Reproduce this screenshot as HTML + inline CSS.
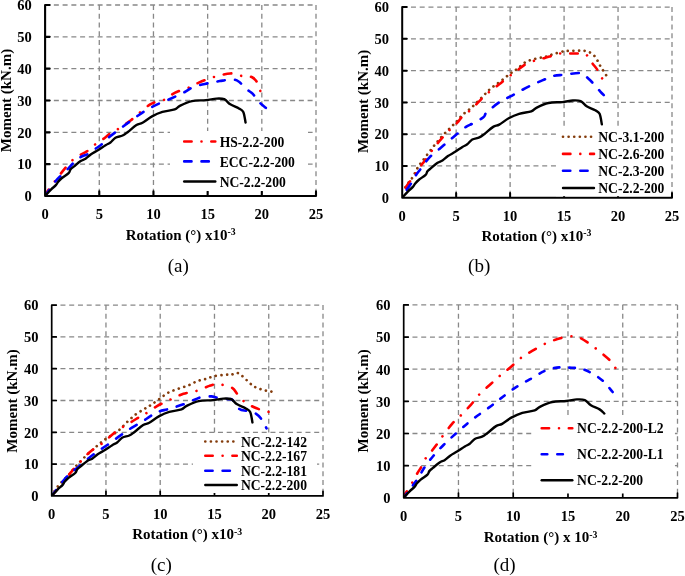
<!DOCTYPE html>
<html><head><meta charset="utf-8"><style>
html,body{margin:0;padding:0;background:#fff;}
svg{display:block;font-family:"Liberation Serif", serif;will-change:transform;}
</style></head><body>
<svg width="685" height="576" viewBox="0 0 685 576">
<rect width="685" height="576" fill="#fff"/>
<clipPath id="clipa"><rect x="45.10" y="2.00" width="273.90" height="194.00"/></clipPath>
<path d="M45.10,164.17H316.00M45.10,132.33H316.00M45.10,100.50H316.00M45.10,68.67H316.00M45.10,36.83H316.00M45.10,5.00H316.00" stroke="#888888" stroke-width="1.3" stroke-dasharray="5 3.75" fill="none"/>
<path d="M99.28,5.00V196.00M153.46,5.00V196.00M207.64,5.00V196.00M261.82,5.00V196.00M316.00,5.00V196.00" stroke="#888888" stroke-width="1.3" stroke-dasharray="5 3.75" fill="none"/>
<g clip-path="url(#clipa)">
<path d="M45.10,196.00C45.64,194.99 45.75,193.67 48.35,189.95C50.95,186.24 57.74,177.54 60.70,173.72C63.67,169.90 64.21,169.26 66.12,167.03C68.04,164.80 69.86,162.36 72.19,160.35C74.52,158.33 77.66,156.42 80.10,154.94C82.54,153.45 84.38,153.13 86.82,151.43C89.26,149.74 92.00,146.82 94.73,144.75C97.46,142.68 100.62,140.88 103.18,139.02C105.75,137.16 107.75,135.20 110.12,133.61C112.48,132.02 113.85,131.75 117.38,129.47C120.90,127.19 125.77,124.11 131.25,119.92C136.72,115.73 144.72,107.66 150.21,104.32C155.70,100.98 160.11,101.77 164.19,99.86C168.27,97.95 170.65,94.88 174.70,92.86C178.74,90.84 184.69,89.36 188.46,87.77C192.23,86.18 193.26,85.06 197.35,83.31C201.43,81.56 207.46,78.91 212.95,77.26C218.44,75.62 225.81,73.71 230.29,73.44C234.77,73.18 237.10,75.25 239.82,75.67C242.55,76.09 244.61,75.72 246.65,75.99C248.69,76.25 250.53,76.52 252.07,77.26C253.60,78.00 254.81,79.12 255.86,80.45C256.91,81.77 257.61,83.47 258.35,85.22C259.09,86.97 259.98,90.00 260.30,90.95" stroke="#ff0000" stroke-width="2.6" fill="none" stroke-linecap="round" stroke-linejoin="round" stroke-dasharray="7.542 10.090 0.010 9.988"/>
<path d="M45.10,196.00C46.69,193.72 51.93,185.76 54.64,182.31C57.34,178.86 59.13,177.54 61.35,175.31C63.58,173.08 66.05,170.90 67.96,168.94C69.88,166.98 70.73,165.49 72.84,163.53C74.95,161.57 78.22,158.70 80.64,157.16C83.06,155.62 84.92,155.68 87.36,154.30C89.80,152.92 92.83,150.58 95.27,148.89C97.71,147.19 99.61,146.13 101.99,144.11C104.37,142.10 106.14,139.66 109.57,136.79C113.01,133.92 117.81,130.48 122.58,126.92C127.35,123.37 133.27,118.80 138.18,115.46C143.09,112.12 146.85,109.57 152.05,106.87C157.25,104.16 164.19,101.56 169.39,99.23C174.59,96.89 179.18,94.93 183.26,92.86C187.34,90.79 189.80,88.40 193.88,86.81C197.96,85.22 203.43,84.27 207.75,83.31C212.06,82.36 215.73,81.72 219.78,81.08C223.82,80.44 228.82,79.38 232.02,79.49C235.22,79.60 236.64,80.18 238.96,81.72C241.27,83.26 243.58,86.71 245.89,88.72C248.20,90.74 251.09,92.06 252.83,93.81C254.56,95.57 254.85,97.48 256.29,99.23C257.74,100.98 259.91,102.89 261.49,104.32C263.08,105.75 265.11,107.24 265.83,107.82" stroke="#0000ff" stroke-width="2.6" fill="none" stroke-linecap="round" stroke-linejoin="round" stroke-dasharray="7.428 10.175"/>
<path d="M45.10,196.00C46.08,194.94 49.16,191.44 50.95,189.63C52.74,187.83 54.62,186.50 55.83,185.18C57.04,183.85 57.20,182.87 58.21,181.68C59.22,180.48 60.16,179.45 61.90,178.01C63.63,176.58 67.19,174.49 68.61,173.08C70.04,171.67 69.55,170.69 70.46,169.58C71.36,168.46 72.33,167.83 74.03,166.40C75.73,164.96 78.73,162.26 80.64,160.98C82.56,159.71 83.78,159.87 85.52,158.75C87.25,157.64 88.91,155.76 91.04,154.30C93.18,152.84 95.88,151.52 98.30,150.00C100.72,148.48 103.54,146.44 105.56,145.19C107.59,143.95 108.80,143.76 110.44,142.52C112.08,141.28 113.40,138.91 115.43,137.75C117.45,136.58 120.52,136.47 122.58,135.52C124.64,134.56 125.47,133.77 127.78,132.01C130.09,130.26 133.99,126.55 136.45,125.01C138.90,123.47 139.91,124.22 142.52,122.78C145.12,121.35 148.73,118.22 152.05,116.42C155.37,114.61 158.68,113.13 162.45,111.96C166.23,110.79 171.81,110.42 174.70,109.41C177.59,108.41 176.92,107.29 179.79,105.91C182.66,104.53 187.58,102.09 191.93,101.14C196.28,100.18 201.82,100.61 205.91,100.18C209.99,99.76 213.37,98.75 216.42,98.59C219.47,98.43 221.91,98.27 224.22,99.23C226.53,100.18 227.83,102.78 230.29,104.32C232.74,105.86 236.79,107.19 238.96,108.46C241.12,109.73 242.19,109.63 243.29,111.96C244.39,114.29 245.19,120.71 245.57,122.47" stroke="#000000" stroke-width="2.4" fill="none" stroke-linecap="round" stroke-linejoin="round"/>
</g>
<path d="M45.10,5.00V196.00H316.00M45.10,196.00h4.6M45.10,164.17h4.6M45.10,132.33h4.6M45.10,100.50h4.6M45.10,68.67h4.6M45.10,36.83h4.6M45.10,5.00h4.6M99.28,196.00v-4.6M153.46,196.00v-4.6M207.64,196.00v-4.6M261.82,196.00v-4.6M316.00,196.00v-4.6" stroke="#000" stroke-width="2.1" fill="none" stroke-linecap="round" stroke-linejoin="round"/>
<rect x="170" y="131" width="138" height="60" fill="#fff"/>
<text x="31.80" y="201.30" font-size="14.5" font-weight="bold" text-anchor="end" >0</text>
<text x="31.80" y="169.47" font-size="14.5" font-weight="bold" text-anchor="end" >10</text>
<text x="31.80" y="137.63" font-size="14.5" font-weight="bold" text-anchor="end" >20</text>
<text x="31.80" y="105.80" font-size="14.5" font-weight="bold" text-anchor="end" >30</text>
<text x="31.80" y="73.97" font-size="14.5" font-weight="bold" text-anchor="end" >40</text>
<text x="31.80" y="42.13" font-size="14.5" font-weight="bold" text-anchor="end" >50</text>
<text x="31.80" y="10.30" font-size="14.5" font-weight="bold" text-anchor="end" >60</text>
<text x="45.10" y="219.40" font-size="14.5" font-weight="bold" text-anchor="middle" >0</text>
<text x="99.28" y="219.40" font-size="14.5" font-weight="bold" text-anchor="middle" >5</text>
<text x="153.46" y="219.40" font-size="14.5" font-weight="bold" text-anchor="middle" >10</text>
<text x="207.64" y="219.40" font-size="14.5" font-weight="bold" text-anchor="middle" >15</text>
<text x="261.82" y="219.40" font-size="14.5" font-weight="bold" text-anchor="middle" >20</text>
<text x="316.00" y="219.40" font-size="14.5" font-weight="bold" text-anchor="middle" >25</text>
<text transform="translate(10.50,100.50) rotate(-90)" font-size="15" font-weight="bold" text-anchor="middle">Moment (kN.m)</text>
<text x="180.70" y="239.50" font-size="15" font-weight="bold" text-anchor="middle" >Rotation (&#176;) x10<tspan font-size="9.8" dy="-4.2">-3</tspan></text>
<text x="178.30" y="272.00" font-size="19" font-weight="normal" text-anchor="middle" >(a)</text>
<path d="M184.20,141.50H215.30" stroke="#ff0000" stroke-width="2.6" fill="none" stroke-linecap="round" stroke-linejoin="round" stroke-dasharray="7.4 9.9 0.01 9.8"/>
<text x="219.70" y="146.70" font-size="13.6" font-weight="bold" text-anchor="start" >HS-2.2-200</text>
<path d="M184.20,161.40H215.30" stroke="#0000ff" stroke-width="2.6" fill="none" stroke-linecap="round" stroke-linejoin="round" stroke-dasharray="7.3 10"/>
<text x="219.70" y="166.60" font-size="13.6" font-weight="bold" text-anchor="start" >ECC-2.2-200</text>
<path d="M184.20,181.50H215.30" stroke="#000000" stroke-width="2.4" fill="none" stroke-linecap="round" stroke-linejoin="round"/>
<text x="219.70" y="186.70" font-size="13.6" font-weight="bold" text-anchor="start" >NC-2.2-200</text>
<clipPath id="clipb"><rect x="402.20" y="4.10" width="272.80" height="193.60"/></clipPath>
<path d="M402.20,165.93H672.00M402.20,134.17H672.00M402.20,102.40H672.00M402.20,70.63H672.00M402.20,38.87H672.00M402.20,7.10H672.00" stroke="#888888" stroke-width="1.3" stroke-dasharray="5 3.75" fill="none"/>
<path d="M456.16,7.10V197.70M510.12,7.10V197.70M564.08,7.10V197.70M618.04,7.10V197.70M672.00,7.10V197.70" stroke="#888888" stroke-width="1.3" stroke-dasharray="5 3.75" fill="none"/>
<g clip-path="url(#clipb)">
<path d="M405.44,187.22C406.01,186.37 407.63,183.88 408.89,182.13C410.15,180.39 411.45,179.28 412.99,176.73C414.54,174.19 416.14,170.12 418.17,166.89C420.20,163.66 422.44,161.01 425.19,157.36C427.94,153.70 431.81,148.57 434.68,144.97C437.56,141.37 439.85,138.61 442.45,135.75C445.06,132.90 447.87,130.30 450.33,127.81C452.80,125.32 455.21,123.00 457.24,120.82C459.27,118.65 460.19,116.96 462.53,114.79C464.87,112.62 468.19,110.55 471.27,107.80C474.34,105.05 477.85,101.39 480.98,98.27C484.11,95.15 486.95,91.76 490.05,89.06C493.14,86.36 496.36,84.50 499.54,82.07C502.73,79.63 506.25,76.62 509.15,74.45C512.04,72.27 514.17,71.11 516.92,69.04C519.67,66.98 522.48,63.80 525.66,62.06C528.84,60.31 532.84,59.41 536.02,58.56C539.20,57.71 541.88,57.71 544.76,56.97C547.64,56.23 550.12,55.07 553.29,54.11C556.45,53.16 561.11,51.79 563.76,51.26C566.40,50.73 566.24,51.04 569.15,50.94C572.07,50.83 578.34,50.57 581.24,50.62C584.14,50.67 584.78,50.78 586.53,51.26C588.27,51.73 590.12,52.37 591.71,53.48C593.29,54.59 594.87,56.34 596.02,57.93C597.18,59.51 597.75,61.42 598.61,63.01C599.48,64.60 600.34,66.03 601.20,67.46C602.07,68.89 602.77,70.00 603.79,71.59C604.82,73.17 606.76,76.09 607.36,76.99" stroke="#843c0c" stroke-width="2.7" fill="none" stroke-linecap="round" stroke-linejoin="round" stroke-dasharray="0.01 5.6"/>
<path d="M405.60,187.60C406.42,186.45 409.28,182.30 410.51,180.70C411.74,179.11 411.71,179.88 412.99,178.00C414.27,176.13 416.77,171.60 418.17,169.43C419.58,167.26 420.20,166.57 421.41,164.98C422.61,163.39 423.19,162.92 425.40,159.90C427.62,156.88 431.84,150.58 434.68,146.87C437.53,143.17 439.85,140.57 442.45,137.66C445.06,134.75 447.87,131.89 450.33,129.40C452.80,126.91 455.21,124.90 457.24,122.73C459.27,120.56 460.19,118.60 462.53,116.38C464.87,114.15 468.00,112.41 471.27,109.39C474.54,106.37 479.04,101.29 482.17,98.27C485.30,95.25 487.15,93.66 490.05,91.28C492.94,88.90 496.36,86.46 499.54,83.98C502.73,81.49 506.25,78.57 509.15,76.35C512.04,74.13 514.17,72.65 516.92,70.63C519.67,68.62 522.48,66.03 525.66,64.28C528.84,62.53 532.84,61.21 536.02,60.15C539.20,59.09 541.88,58.72 544.76,57.93C547.64,57.13 550.68,56.13 553.29,55.39C555.90,54.64 557.48,53.80 560.41,53.48C563.34,53.16 567.84,53.48 570.88,53.48C573.92,53.48 576.36,53.43 578.65,53.48C580.93,53.53 583.06,53.32 584.58,53.80C586.11,54.27 586.56,54.80 587.82,56.34C589.08,57.87 590.48,60.68 592.14,63.01C593.79,65.34 596.08,67.72 597.75,70.32C599.42,72.91 601.44,77.20 602.18,78.57" stroke="#ff0000" stroke-width="2.6" fill="none" stroke-linecap="round" stroke-linejoin="round" stroke-dasharray="7.494 10.026 0.010 9.925"/>
<path d="M406.62,189.79C407.42,188.67 409.86,185.48 411.37,183.09C412.88,180.70 414.13,177.85 415.69,175.46C417.25,173.08 418.46,171.81 420.76,168.79C423.06,165.77 426.30,160.74 429.50,157.36C432.71,153.97 436.93,151.06 439.97,148.46C443.01,145.87 444.86,144.23 447.74,141.79C450.62,139.36 454.20,136.34 457.24,133.85C460.28,131.36 463.37,128.61 465.98,126.86C468.59,125.11 469.99,124.95 472.89,123.37C475.78,121.78 481.04,119.18 483.36,117.33C485.68,115.48 484.11,114.79 486.81,112.25C489.51,109.71 495.69,104.68 499.54,102.08C503.39,99.49 506.45,98.54 509.90,96.68C513.36,94.83 516.78,92.82 520.26,90.96C523.75,89.11 527.06,87.36 530.84,85.56C534.62,83.76 539.19,81.75 542.93,80.16C546.67,78.57 549.78,76.93 553.29,76.03C556.80,75.13 559.31,75.24 563.97,74.76C568.63,74.29 577.19,72.54 581.24,73.17C585.29,73.81 586.08,76.67 588.25,78.57C590.43,80.48 592.28,82.44 594.30,84.61C596.31,86.78 598.76,89.85 600.34,91.60C601.92,93.35 603.22,94.51 603.79,95.09" stroke="#0000ff" stroke-width="2.6" fill="none" stroke-linecap="round" stroke-linejoin="round" stroke-dasharray="7.306 10.008"/>
<path d="M402.20,197.70C403.17,196.64 406.25,193.15 408.03,191.35C409.81,189.55 411.68,188.22 412.88,186.90C414.09,185.58 414.25,184.60 415.26,183.41C416.27,182.21 417.20,181.18 418.93,179.75C420.65,178.32 424.20,176.23 425.62,174.83C427.04,173.42 426.55,172.45 427.45,171.33C428.35,170.22 429.32,169.59 431.01,168.16C432.71,166.73 435.69,164.03 437.60,162.76C439.50,161.49 440.73,161.64 442.45,160.53C444.18,159.42 445.84,157.54 447.96,156.09C450.08,154.63 452.78,153.31 455.19,151.80C457.60,150.28 460.40,148.24 462.42,147.00C464.43,145.76 465.64,145.57 467.28,144.33C468.91,143.09 470.23,140.73 472.24,139.57C474.25,138.40 477.31,138.30 479.36,137.34C481.41,136.39 482.24,135.60 484.54,133.85C486.85,132.10 490.73,128.40 493.18,126.86C495.62,125.32 496.63,126.07 499.22,124.64C501.81,123.21 505.41,120.08 508.72,118.28C512.03,116.48 515.32,115.00 519.08,113.84C522.84,112.67 528.39,112.30 531.27,111.29C534.15,110.29 533.48,109.18 536.34,107.80C539.20,106.42 544.10,103.99 548.43,103.04C552.77,102.08 558.29,102.51 562.35,102.08C566.42,101.66 569.78,100.65 572.82,100.49C575.86,100.34 578.29,100.18 580.59,101.13C582.89,102.08 584.19,104.68 586.64,106.21C589.08,107.75 593.11,109.07 595.27,110.34C597.43,111.61 598.49,111.51 599.59,113.84C600.68,116.17 601.47,122.57 601.85,124.32" stroke="#000000" stroke-width="2.4" fill="none" stroke-linecap="round" stroke-linejoin="round"/>
</g>
<path d="M402.20,7.10V197.70H672.00M402.20,197.70h4.6M402.20,165.93h4.6M402.20,134.17h4.6M402.20,102.40h4.6M402.20,70.63h4.6M402.20,38.87h4.6M402.20,7.10h4.6M456.16,197.70v-4.6M510.12,197.70v-4.6M564.08,197.70v-4.6M618.04,197.70v-4.6M672.00,197.70v-4.6" stroke="#000" stroke-width="2.0" fill="none" stroke-linecap="round" stroke-linejoin="round"/>
<rect x="556" y="127" width="114" height="69.19999999999999" fill="#fff"/>
<text x="388.90" y="203.00" font-size="14.5" font-weight="bold" text-anchor="end" >0</text>
<text x="388.90" y="171.23" font-size="14.5" font-weight="bold" text-anchor="end" >10</text>
<text x="388.90" y="139.47" font-size="14.5" font-weight="bold" text-anchor="end" >20</text>
<text x="388.90" y="107.70" font-size="14.5" font-weight="bold" text-anchor="end" >30</text>
<text x="388.90" y="75.93" font-size="14.5" font-weight="bold" text-anchor="end" >40</text>
<text x="388.90" y="44.17" font-size="14.5" font-weight="bold" text-anchor="end" >50</text>
<text x="388.90" y="12.40" font-size="14.5" font-weight="bold" text-anchor="end" >60</text>
<text x="402.20" y="221.10" font-size="14.5" font-weight="bold" text-anchor="middle" >0</text>
<text x="456.16" y="221.10" font-size="14.5" font-weight="bold" text-anchor="middle" >5</text>
<text x="510.12" y="221.10" font-size="14.5" font-weight="bold" text-anchor="middle" >10</text>
<text x="564.08" y="221.10" font-size="14.5" font-weight="bold" text-anchor="middle" >15</text>
<text x="618.04" y="221.10" font-size="14.5" font-weight="bold" text-anchor="middle" >20</text>
<text x="672.00" y="221.10" font-size="14.5" font-weight="bold" text-anchor="middle" >25</text>
<text transform="translate(368.00,101.40) rotate(-90)" font-size="15" font-weight="bold" text-anchor="middle">Moment (kN.m)</text>
<text x="536.50" y="240.60" font-size="15" font-weight="bold" text-anchor="middle" >Rotation (&#176;) x10<tspan font-size="9.8" dy="-4.2">-3</tspan></text>
<text x="479.20" y="271.50" font-size="19" font-weight="normal" text-anchor="middle" >(b)</text>
<path d="M563.00,136.75H594.00" stroke="#843c0c" stroke-width="2.7" fill="none" stroke-linecap="round" stroke-linejoin="round" stroke-dasharray="0.01 5.6"/>
<text x="598.30" y="141.95" font-size="13.6" font-weight="bold" text-anchor="start" >NC-3.1-200</text>
<path d="M563.00,153.90H594.00" stroke="#ff0000" stroke-width="2.6" fill="none" stroke-linecap="round" stroke-linejoin="round" stroke-dasharray="7.4 9.9 0.01 9.8"/>
<text x="598.30" y="159.10" font-size="13.6" font-weight="bold" text-anchor="start" >NC-2.6-200</text>
<path d="M563.00,170.80H594.00" stroke="#0000ff" stroke-width="2.6" fill="none" stroke-linecap="round" stroke-linejoin="round" stroke-dasharray="7.3 10"/>
<text x="598.30" y="176.00" font-size="13.6" font-weight="bold" text-anchor="start" >NC-2.3-200</text>
<path d="M563.00,188.00H594.00" stroke="#000000" stroke-width="2.4" fill="none" stroke-linecap="round" stroke-linejoin="round"/>
<text x="598.30" y="193.20" font-size="13.6" font-weight="bold" text-anchor="start" >NC-2.2-200</text>
<clipPath id="clipc"><rect x="51.70" y="302.10" width="274.30" height="193.80"/></clipPath>
<path d="M51.70,464.10H323.00M51.70,432.30H323.00M51.70,400.50H323.00M51.70,368.70H323.00M51.70,336.90H323.00M51.70,305.10H323.00" stroke="#888888" stroke-width="1.3" stroke-dasharray="5 3.75" fill="none"/>
<path d="M105.96,305.10V495.90M160.22,305.10V495.90M214.48,305.10V495.90M268.74,305.10V495.90M323.00,305.10V495.90" stroke="#888888" stroke-width="1.3" stroke-dasharray="5 3.75" fill="none"/>
<g clip-path="url(#clipc)">
<path d="M51.70,495.90C52.57,494.52 55.03,490.18 56.91,487.63C58.79,485.09 60.96,482.81 62.99,480.64C65.01,478.46 66.89,477.03 69.06,474.59C71.23,472.16 72.97,469.35 76.01,466.01C79.05,462.67 83.80,457.90 87.29,454.56C90.79,451.22 93.90,448.57 96.95,445.97C100.01,443.38 102.18,441.42 105.63,438.98C109.09,436.54 114.23,434.05 117.68,431.35C121.13,428.64 123.45,425.52 126.36,422.76C129.27,420.00 132.26,417.04 135.15,414.81C138.05,412.58 141.17,410.99 143.72,409.40C146.28,407.81 147.88,406.97 150.45,405.27C153.02,403.57 156.24,401.30 159.13,399.23C162.03,397.16 164.63,394.62 167.82,392.87C171.00,391.12 174.76,390.01 178.23,388.73C181.71,387.46 185.47,386.51 188.65,385.24C191.84,383.96 194.44,382.16 197.33,381.10C200.23,380.04 203.12,379.72 206.02,378.88C208.91,378.03 211.51,376.70 214.70,376.01C217.88,375.32 222.38,374.95 225.11,374.74C227.85,374.53 229.11,375.06 231.08,374.74C233.06,374.42 235.08,372.62 236.94,372.83C238.81,373.05 240.09,374.26 242.26,376.01C244.43,377.76 247.89,381.53 249.97,383.33C252.05,385.13 253.02,385.87 254.74,386.83C256.46,387.78 258.43,388.42 260.28,389.05C262.12,389.69 263.95,390.22 265.81,390.64C267.67,391.07 270.51,391.44 271.45,391.60" stroke="#843c0c" stroke-width="2.7" fill="none" stroke-linecap="round" stroke-linejoin="round" stroke-dasharray="0.01 5.6"/>
<path d="M51.70,495.90C54.32,492.67 62.91,481.91 67.44,476.50C71.96,471.10 75.09,467.55 78.83,463.46C82.57,459.38 86.01,455.35 89.90,452.02C93.79,448.68 98.11,446.61 102.16,443.43C106.21,440.25 110.75,435.69 114.21,432.94C117.66,430.18 120.00,428.75 122.89,426.89C125.78,425.04 128.66,423.56 131.57,421.81C134.48,420.06 138.08,417.72 140.36,416.40C142.64,415.07 142.40,415.61 145.24,413.86C148.08,412.11 153.20,408.29 157.40,405.91C161.59,403.52 166.08,401.56 170.42,399.55C174.76,397.53 179.10,395.25 183.44,393.82C187.78,392.39 192.14,392.29 196.47,390.96C200.79,389.64 206.02,387.04 209.38,385.87C212.74,384.71 214.41,384.12 216.65,383.96C218.89,383.81 220.20,384.23 222.84,384.92C225.48,385.61 230.07,386.56 232.49,388.10C234.92,389.63 235.51,391.97 237.38,394.14C239.24,396.31 241.25,399.12 243.67,401.14C246.10,403.15 249.26,404.85 251.92,406.22C254.58,407.60 256.84,408.45 259.62,409.40C262.41,410.36 267.13,411.52 268.63,411.95" stroke="#ff0000" stroke-width="2.6" fill="none" stroke-linecap="round" stroke-linejoin="round" stroke-dasharray="7.493 10.024 0.010 9.923"/>
<path d="M51.70,495.90C54.02,492.93 61.11,482.97 65.59,478.09C70.08,473.22 73.98,470.57 78.61,466.64C83.24,462.72 88.60,458.16 93.37,454.56C98.15,450.96 102.61,448.31 107.26,445.02C111.91,441.73 117.21,437.71 121.26,434.84C125.31,431.98 128.12,430.02 131.57,427.85C135.03,425.68 138.91,423.71 141.99,421.81C145.06,419.90 147.45,418.04 150.02,416.40C152.59,414.76 154.14,413.22 157.40,411.95C160.65,410.68 165.21,410.04 169.55,408.77C173.89,407.50 179.10,405.91 183.44,404.32C187.78,402.73 192.70,400.39 195.60,399.23C198.49,398.06 198.20,397.80 200.81,397.32C203.41,396.84 208.33,396.26 211.22,396.37C214.12,396.47 215.28,397.48 218.17,397.96C221.06,398.43 226.20,398.91 228.59,399.23C230.98,399.55 230.69,398.22 232.49,399.86C234.30,401.51 237.00,407.23 239.44,409.09C241.88,410.94 244.36,410.20 247.14,410.99C249.93,411.79 253.73,412.43 256.15,413.86C258.58,415.29 259.95,417.14 261.69,419.58C263.42,422.02 265.76,427.00 266.57,428.48" stroke="#0000ff" stroke-width="2.6" fill="none" stroke-linecap="round" stroke-linejoin="round" stroke-dasharray="7.315 10.021"/>
<path d="M51.70,495.90C52.68,494.84 55.77,491.34 57.56,489.54C59.35,487.74 61.23,486.41 62.44,485.09C63.66,483.76 63.82,482.78 64.83,481.59C65.84,480.40 66.78,479.36 68.52,477.93C70.26,476.50 73.82,474.41 75.25,473.00C76.68,471.60 76.19,470.62 77.09,469.51C78.00,468.39 78.97,467.76 80.67,466.33C82.37,464.89 85.38,462.19 87.29,460.92C89.21,459.65 90.44,459.81 92.18,458.69C93.91,457.58 95.58,455.70 97.71,454.24C99.85,452.78 102.56,451.46 104.98,449.95C107.41,448.43 110.23,446.39 112.25,445.15C114.28,443.90 115.49,443.72 117.14,442.48C118.78,441.24 120.10,438.87 122.13,437.71C124.16,436.54 127.23,436.43 129.29,435.48C131.35,434.53 132.19,433.73 134.50,431.98C136.82,430.23 140.72,426.52 143.18,424.99C145.64,423.45 146.66,424.19 149.26,422.76C151.86,421.33 155.48,418.20 158.81,416.40C162.14,414.60 165.45,413.11 169.23,411.95C173.01,410.78 178.60,410.41 181.49,409.40C184.38,408.40 183.71,407.28 186.59,405.91C189.47,404.53 194.39,402.09 198.74,401.14C203.10,400.18 208.66,400.61 212.74,400.18C216.83,399.76 220.21,398.75 223.27,398.59C226.33,398.43 228.77,398.27 231.08,399.23C233.40,400.18 234.70,402.78 237.16,404.32C239.62,405.85 243.67,407.18 245.84,408.45C248.01,409.72 249.08,409.62 250.18,411.95C251.29,414.28 252.08,420.69 252.46,422.44" stroke="#000000" stroke-width="2.4" fill="none" stroke-linecap="round" stroke-linejoin="round"/>
</g>
<path d="M51.70,305.10V495.90H323.00M51.70,495.90h4.6M51.70,464.10h4.6M51.70,432.30h4.6M51.70,400.50h4.6M51.70,368.70h4.6M51.70,336.90h4.6M51.70,305.10h4.6M105.96,495.90v-4.6M160.22,495.90v-4.6M214.48,495.90v-4.6M268.74,495.90v-4.6M323.00,495.90v-4.6" stroke="#000" stroke-width="1.7" fill="none" stroke-linecap="round" stroke-linejoin="round"/>
<rect x="193" y="434" width="124" height="59" fill="#fff"/>
<text x="38.40" y="501.20" font-size="14.5" font-weight="bold" text-anchor="end" >0</text>
<text x="38.40" y="469.40" font-size="14.5" font-weight="bold" text-anchor="end" >10</text>
<text x="38.40" y="437.60" font-size="14.5" font-weight="bold" text-anchor="end" >20</text>
<text x="38.40" y="405.80" font-size="14.5" font-weight="bold" text-anchor="end" >30</text>
<text x="38.40" y="374.00" font-size="14.5" font-weight="bold" text-anchor="end" >40</text>
<text x="38.40" y="342.20" font-size="14.5" font-weight="bold" text-anchor="end" >50</text>
<text x="38.40" y="310.40" font-size="14.5" font-weight="bold" text-anchor="end" >60</text>
<text x="51.70" y="518.70" font-size="14.5" font-weight="bold" text-anchor="middle" >0</text>
<text x="105.96" y="518.70" font-size="14.5" font-weight="bold" text-anchor="middle" >5</text>
<text x="160.22" y="518.70" font-size="14.5" font-weight="bold" text-anchor="middle" >10</text>
<text x="214.48" y="518.70" font-size="14.5" font-weight="bold" text-anchor="middle" >15</text>
<text x="268.74" y="518.70" font-size="14.5" font-weight="bold" text-anchor="middle" >20</text>
<text x="323.00" y="518.70" font-size="14.5" font-weight="bold" text-anchor="middle" >25</text>
<text transform="translate(16.60,401.00) rotate(-90)" font-size="15" font-weight="bold" text-anchor="middle">Moment (kN.m)</text>
<text x="187.20" y="539.00" font-size="15" font-weight="bold" text-anchor="middle" >Rotation (&#176;) x10<tspan font-size="9.8" dy="-4.2">-3</tspan></text>
<text x="161.30" y="571.00" font-size="19" font-weight="normal" text-anchor="middle" >(c)</text>
<path d="M205.30,441.50H236.80" stroke="#843c0c" stroke-width="2.7" fill="none" stroke-linecap="round" stroke-linejoin="round" stroke-dasharray="0.01 5.6"/>
<text x="240.90" y="446.70" font-size="13.6" font-weight="bold" text-anchor="start" >NC-2.2-142</text>
<path d="M205.30,455.70H236.80" stroke="#ff0000" stroke-width="2.6" fill="none" stroke-linecap="round" stroke-linejoin="round" stroke-dasharray="7.4 9.9 0.01 9.8"/>
<text x="240.90" y="460.90" font-size="13.6" font-weight="bold" text-anchor="start" >NC-2.2-167</text>
<path d="M205.30,470.80H236.80" stroke="#0000ff" stroke-width="2.6" fill="none" stroke-linecap="round" stroke-linejoin="round" stroke-dasharray="7.3 10"/>
<text x="240.90" y="476.00" font-size="13.6" font-weight="bold" text-anchor="start" >NC-2.2-181</text>
<path d="M205.30,485.00H236.80" stroke="#000000" stroke-width="2.4" fill="none" stroke-linecap="round" stroke-linejoin="round"/>
<text x="240.90" y="490.20" font-size="13.6" font-weight="bold" text-anchor="start" >NC-2.2-200</text>
<clipPath id="clipd"><rect x="403.70" y="301.90" width="276.80" height="195.90"/></clipPath>
<path d="M403.70,465.65H677.50M403.70,433.50H677.50M403.70,401.35H677.50M403.70,369.20H677.50M403.70,337.05H677.50M403.70,304.90H677.50" stroke="#888888" stroke-width="1.3" stroke-dasharray="5 3.75" fill="none"/>
<path d="M458.46,304.90V497.80M513.22,304.90V497.80M567.98,304.90V497.80M622.74,304.90V497.80M677.50,304.90V497.80" stroke="#888888" stroke-width="1.3" stroke-dasharray="5 3.75" fill="none"/>
<g clip-path="url(#clipd)">
<path d="M403.70,497.80C403.79,497.42 402.86,498.01 404.25,495.55C405.63,493.08 409.94,486.55 412.02,483.01C414.10,479.47 415.16,477.06 416.73,474.33C418.30,471.60 419.98,469.24 421.44,466.61C422.90,463.99 423.76,461.20 425.49,458.58C427.23,455.95 429.93,453.27 431.85,450.86C433.76,448.45 435.35,446.36 436.99,444.11C438.64,441.86 439.18,440.73 441.70,437.36C444.22,433.98 448.99,427.45 452.11,423.86C455.23,420.26 457.31,418.98 460.43,415.82C463.55,412.66 467.71,408.42 470.84,404.89C473.96,401.35 475.84,398.08 479.16,394.60C482.48,391.12 487.23,387.20 490.77,383.99C494.31,380.77 497.07,378.15 500.41,375.31C503.75,372.47 507.32,369.90 510.81,366.95C514.30,364.00 517.84,360.25 521.32,357.63C524.81,355.00 527.91,353.45 531.73,351.20C535.54,348.95 540.05,346.11 544.21,344.12C548.38,342.14 552.54,340.59 556.70,339.30C560.86,338.01 565.37,336.67 569.18,336.41C573.00,336.14 576.12,336.41 579.59,337.69C583.06,338.98 586.53,341.71 589.99,344.12C593.46,346.53 597.06,349.43 600.40,352.16C603.74,354.89 607.53,357.89 610.04,360.52C612.54,363.15 614.51,366.68 615.40,367.91" stroke="#ff0000" stroke-width="2.6" fill="none" stroke-linecap="round" stroke-linejoin="round" stroke-dasharray="7.580 10.141 0.010 10.038"/>
<path d="M403.70,497.80C404.47,496.73 406.13,494.32 408.30,491.37C410.47,488.42 413.94,484.24 416.73,480.12C419.53,475.99 422.30,470.63 425.06,466.61C427.81,462.60 430.15,459.65 433.27,456.00C436.39,452.36 439.95,448.56 443.78,444.75C447.62,440.95 451.76,437.20 456.27,433.18C460.78,429.16 465.29,424.98 470.84,420.64C476.38,416.30 484.51,410.89 489.56,407.14C494.62,403.39 496.94,401.35 501.17,398.13C505.41,394.92 510.23,390.95 514.97,387.85C519.72,384.74 524.77,382.27 529.65,379.49C534.52,376.70 539.71,373.11 544.21,371.13C548.72,369.15 552.54,368.18 556.70,367.59C560.86,367.00 565.00,367.38 569.18,367.59C573.36,367.81 577.60,367.70 581.78,368.88C585.96,370.06 590.45,372.42 594.26,374.67C598.08,376.92 602.04,380.02 604.67,382.38C607.30,384.74 608.70,387.20 610.04,388.81C611.37,390.42 612.23,391.49 612.66,392.03" stroke="#0000ff" stroke-width="2.6" fill="none" stroke-linecap="round" stroke-linejoin="round" stroke-dasharray="5.570 9.946"/>
<path d="M403.70,497.80C404.69,496.73 407.81,493.19 409.61,491.37C411.42,489.55 413.32,488.21 414.54,486.87C415.77,485.53 415.93,484.54 416.95,483.33C417.97,482.13 418.92,481.08 420.68,479.64C422.43,478.19 426.02,476.07 427.47,474.65C428.91,473.23 428.42,472.24 429.33,471.12C430.24,469.99 431.23,469.35 432.94,467.90C434.66,466.45 437.69,463.72 439.62,462.44C441.56,461.15 442.80,461.31 444.55,460.18C446.30,459.06 447.98,457.16 450.14,455.68C452.29,454.21 455.03,452.88 457.47,451.34C459.92,449.81 462.77,447.75 464.81,446.49C466.86,445.23 468.08,445.04 469.74,443.79C471.40,442.53 472.73,440.14 474.78,438.97C476.82,437.79 479.93,437.68 482.01,436.71C484.09,435.75 484.93,434.95 487.26,433.18C489.60,431.41 493.54,427.66 496.03,426.11C498.51,424.55 499.53,425.30 502.16,423.86C504.79,422.41 508.44,419.25 511.80,417.43C515.15,415.60 518.50,414.10 522.31,412.92C526.13,411.75 531.77,411.37 534.69,410.35C537.61,409.33 536.93,408.21 539.83,406.82C542.74,405.42 547.70,402.96 552.10,401.99C556.50,401.03 562.10,401.46 566.23,401.03C570.35,400.60 573.77,399.58 576.85,399.42C579.94,399.26 582.40,399.10 584.74,400.06C587.07,401.03 588.39,403.65 590.87,405.21C593.35,406.76 597.39,407.99 599.63,409.39C601.88,410.78 603.56,412.87 604.34,413.57" stroke="#000000" stroke-width="2.4" fill="none" stroke-linecap="round" stroke-linejoin="round"/>
</g>
<path d="M403.70,304.90V497.80H677.50M403.70,497.80h4.6M403.70,465.65h4.6M403.70,433.50h4.6M403.70,401.35h4.6M403.70,369.20h4.6M403.70,337.05h4.6M403.70,304.90h4.6M458.46,497.80v-4.6M513.22,497.80v-4.6M567.98,497.80v-4.6M622.74,497.80v-4.6M677.50,497.80v-4.6" stroke="#000" stroke-width="1.7" fill="none" stroke-linecap="round" stroke-linejoin="round"/>
<rect x="533" y="416" width="139" height="77.5" fill="#fff"/>
<text x="390.40" y="503.10" font-size="14.5" font-weight="bold" text-anchor="end" >0</text>
<text x="390.40" y="470.95" font-size="14.5" font-weight="bold" text-anchor="end" >10</text>
<text x="390.40" y="438.80" font-size="14.5" font-weight="bold" text-anchor="end" >20</text>
<text x="390.40" y="406.65" font-size="14.5" font-weight="bold" text-anchor="end" >30</text>
<text x="390.40" y="374.50" font-size="14.5" font-weight="bold" text-anchor="end" >40</text>
<text x="390.40" y="342.35" font-size="14.5" font-weight="bold" text-anchor="end" >50</text>
<text x="390.40" y="310.20" font-size="14.5" font-weight="bold" text-anchor="end" >60</text>
<text x="403.70" y="520.80" font-size="14.5" font-weight="bold" text-anchor="middle" >0</text>
<text x="458.46" y="520.80" font-size="14.5" font-weight="bold" text-anchor="middle" >5</text>
<text x="513.22" y="520.80" font-size="14.5" font-weight="bold" text-anchor="middle" >10</text>
<text x="567.98" y="520.80" font-size="14.5" font-weight="bold" text-anchor="middle" >15</text>
<text x="622.74" y="520.80" font-size="14.5" font-weight="bold" text-anchor="middle" >20</text>
<text x="677.50" y="520.80" font-size="14.5" font-weight="bold" text-anchor="middle" >25</text>
<text transform="translate(368.30,400.85) rotate(-90)" font-size="15" font-weight="bold" text-anchor="middle">Moment (kN.m)</text>
<text x="540.50" y="541.90" font-size="15" font-weight="bold" text-anchor="middle" >Rotation (&#176;) x 10<tspan font-size="9.8" dy="-4.2">-3</tspan></text>
<text x="504.50" y="571.00" font-size="19" font-weight="normal" text-anchor="middle" >(d)</text>
<path d="M541.70,428.20H572.30" stroke="#ff0000" stroke-width="2.6" fill="none" stroke-linecap="round" stroke-linejoin="round" stroke-dasharray="7.4 9.9 0.01 9.8"/>
<text x="577.10" y="433.40" font-size="13.6" font-weight="bold" text-anchor="start" >NC-2.2-200-L2</text>
<path d="M541.70,454.20H572.30" stroke="#0000ff" stroke-width="2.6" fill="none" stroke-linecap="round" stroke-linejoin="round" stroke-dasharray="5.6 10"/>
<text x="577.10" y="459.40" font-size="13.6" font-weight="bold" text-anchor="start" >NC-2.2-200-L1</text>
<path d="M541.70,480.20H572.30" stroke="#000000" stroke-width="2.4" fill="none" stroke-linecap="round" stroke-linejoin="round"/>
<text x="577.10" y="485.40" font-size="13.6" font-weight="bold" text-anchor="start" >NC-2.2-200</text>
</svg>
</body></html>
